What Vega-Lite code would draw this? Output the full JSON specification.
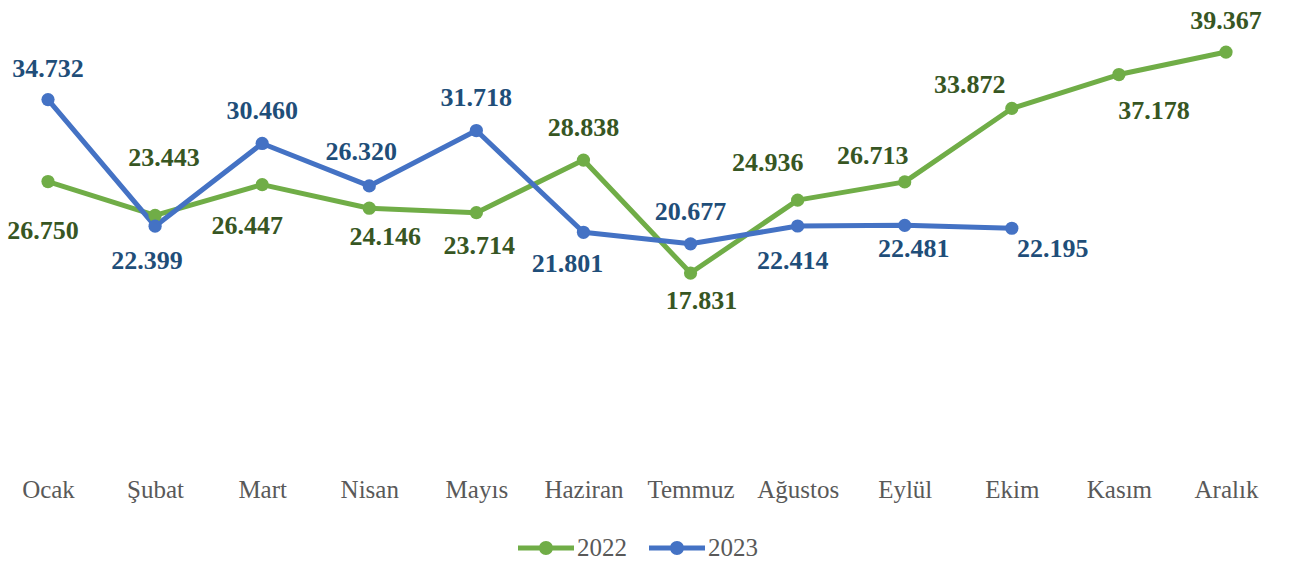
{
  "$schema": "https://vega.github.io/schema/vega-lite/v6.json",
  "width": 1280,
  "height": 456,
  "autosize": {"type": "none"},
  "padding": {"left": 0, "top": 0, "right": 9, "bottom": 105},
  "background": "white",
  "config": {
    "font": "Times New Roman, Liberation Serif, serif",
    "view": {"stroke": null},
    "locale": {"number": {"decimal": ",", "thousands": ".", "grouping": [3], "currency": ["₺", ""]}},
    "axis": {"labelFont": "Times New Roman, Liberation Serif, serif"},
    "legend": {"labelFont": "Times New Roman, Liberation Serif, serif"},
    "text": {"font": "Liberation Serif", "fontSize": 26, "fontWeight": "bold", "baseline": "middle", "align": "center"}
  },
  "data": {
    "values": [
      {"month": "Ocak", "year": "2022", "value": 26750},
      {"month": "Şubat", "year": "2022", "value": 23443},
      {"month": "Mart", "year": "2022", "value": 26447},
      {"month": "Nisan", "year": "2022", "value": 24146},
      {"month": "Mayıs", "year": "2022", "value": 23714},
      {"month": "Haziran", "year": "2022", "value": 28838},
      {"month": "Temmuz", "year": "2022", "value": 17831},
      {"month": "Ağustos", "year": "2022", "value": 24936},
      {"month": "Eylül", "year": "2022", "value": 26713},
      {"month": "Ekim", "year": "2022", "value": 33872},
      {"month": "Kasım", "year": "2022", "value": 37178},
      {"month": "Aralık", "year": "2022", "value": 39367},
      {"month": "Ocak", "year": "2023", "value": 34732},
      {"month": "Şubat", "year": "2023", "value": 22399},
      {"month": "Mart", "year": "2023", "value": 30460},
      {"month": "Nisan", "year": "2023", "value": 26320},
      {"month": "Mayıs", "year": "2023", "value": 31718},
      {"month": "Haziran", "year": "2023", "value": 21801},
      {"month": "Temmuz", "year": "2023", "value": 20677},
      {"month": "Ağustos", "year": "2023", "value": 22414},
      {"month": "Eylül", "year": "2023", "value": 22481},
      {"month": "Ekim", "year": "2023", "value": 22195}
    ]
  },
  "encoding": {
    "x": {
      "field": "month", "type": "ordinal",
      "sort": ["Ocak", "Şubat", "Mart", "Nisan", "Mayıs", "Haziran", "Temmuz", "Ağustos", "Eylül", "Ekim", "Kasım", "Aralık"],
      "scale": {"type": "point", "range": [48, 1226], "padding": 0},
      "axis": {"title": null, "domain": false, "ticks": false, "labelAngle": 0, "labelFont": "Times New Roman, Liberation Serif, serif", "labelFontSize": 25, "labelFontWeight": "normal", "labelColor": "#595959", "labelPadding": 21, "labelOverlap": false, "labelBound": false}
    },
    "y": {"field": "value", "type": "quantitative", "scale": {"domain": [0, 44440], "nice": false, "zero": true}, "axis": null},
    "text": {"field": "value", "type": "quantitative", "format": ",.0f"}
  },
  "layer": [
    {
      "data": {"values": [{}]},
      "mark": {"type": "rule", "color": "#D9D9D9", "strokeWidth": 1.5},
      "encoding": {"x": {"value": 0}, "x2": {"value": 1280}, "y": {"datum": 0}, "text": null}
    },
    {
      "mark": {"type": "line", "strokeWidth": 5, "strokeCap": "round", "strokeJoin": "round"},
      "encoding": {
        "color": {"field": "year", "type": "nominal", "scale": {"domain": ["2022", "2023"], "range": ["#70AD47", "#4472C4"]},
          "legend": {"title": null, "orient": "none", "legendX": 518, "legendY": 520, "direction": "horizontal", "padding": 0,
            "labelFont": "Times New Roman, Liberation Serif, serif", "labelFontSize": 25, "labelColor": "#595959", "labelOffset": 3, "columnPadding": 22,
            "symbolType": "M-1,-0.09H1V0.09H-1Z M-0.25,0A0.25,0.25 0 1,1 0.25,0A0.25,0.25 0 1,1 -0.25,0Z",
            "symbolSize": 3136, "symbolStrokeWidth": 0,
            "encode": {"symbols": {"update": {"fill": {"scale": "color", "field": "value"}, "stroke": {"value": "transparent"}, "opacity": {"value": 1}, "fillOpacity": {"value": 1}}}}}
        },
        "text": null
      }
    },
    {
      "mark": {"type": "point", "filled": true, "size": 175, "opacity": 1},
      "encoding": {"color": {"field": "year", "type": "nominal"}, "text": null}
    },
    {"transform": [{"filter": "datum.year == '2023' && datum.month == 'Ocak'"}], "mark": {"type": "text", "fill": "#1F4E79", "dx": 0, "dy": -31}},
    {"transform": [{"filter": "datum.year == '2022' && datum.month == 'Ocak'"}], "mark": {"type": "text", "fill": "#375623", "dx": -5, "dy": 49}},
    {"transform": [{"filter": "datum.year == '2022' && datum.month == 'Şubat'"}], "mark": {"type": "text", "fill": "#375623", "dx": 9, "dy": -57}},
    {"transform": [{"filter": "datum.year == '2023' && datum.month == 'Şubat'"}], "mark": {"type": "text", "fill": "#1F4E79", "dx": -8, "dy": 35}},
    {"transform": [{"filter": "datum.year == '2023' && datum.month == 'Mart'"}], "mark": {"type": "text", "fill": "#1F4E79", "dx": 0, "dy": -32}},
    {"transform": [{"filter": "datum.year == '2022' && datum.month == 'Mart'"}], "mark": {"type": "text", "fill": "#375623", "dx": -15, "dy": 41}},
    {"transform": [{"filter": "datum.year == '2023' && datum.month == 'Nisan'"}], "mark": {"type": "text", "fill": "#1F4E79", "dx": -8, "dy": -34}},
    {"transform": [{"filter": "datum.year == '2022' && datum.month == 'Nisan'"}], "mark": {"type": "text", "fill": "#375623", "dx": 16, "dy": 29}},
    {"transform": [{"filter": "datum.year == '2023' && datum.month == 'Mayıs'"}], "mark": {"type": "text", "fill": "#1F4E79", "dx": 0, "dy": -33}},
    {"transform": [{"filter": "datum.year == '2022' && datum.month == 'Mayıs'"}], "mark": {"type": "text", "fill": "#375623", "dx": 3, "dy": 33}},
    {"transform": [{"filter": "datum.year == '2022' && datum.month == 'Haziran'"}], "mark": {"type": "text", "fill": "#375623", "dx": 0, "dy": -32}},
    {"transform": [{"filter": "datum.year == '2023' && datum.month == 'Haziran'"}], "mark": {"type": "text", "fill": "#1F4E79", "dx": -16, "dy": 32}},
    {"transform": [{"filter": "datum.year == '2023' && datum.month == 'Temmuz'"}], "mark": {"type": "text", "fill": "#1F4E79", "dx": 0, "dy": -32}},
    {"transform": [{"filter": "datum.year == '2022' && datum.month == 'Temmuz'"}], "mark": {"type": "text", "fill": "#375623", "dx": 11, "dy": 28}},
    {"transform": [{"filter": "datum.year == '2022' && datum.month == 'Ağustos'"}], "mark": {"type": "text", "fill": "#375623", "dx": -30, "dy": -37}},
    {"transform": [{"filter": "datum.year == '2023' && datum.month == 'Ağustos'"}], "mark": {"type": "text", "fill": "#1F4E79", "dx": -5, "dy": 35}},
    {"transform": [{"filter": "datum.year == '2022' && datum.month == 'Eylül'"}], "mark": {"type": "text", "fill": "#375623", "dx": -32, "dy": -26}},
    {"transform": [{"filter": "datum.year == '2023' && datum.month == 'Eylül'"}], "mark": {"type": "text", "fill": "#1F4E79", "dx": 9, "dy": 24}},
    {"transform": [{"filter": "datum.year == '2022' && datum.month == 'Ekim'"}], "mark": {"type": "text", "fill": "#375623", "dx": -42, "dy": -23}},
    {"transform": [{"filter": "datum.year == '2023' && datum.month == 'Ekim'"}], "mark": {"type": "text", "fill": "#1F4E79", "dx": 41, "dy": 21}},
    {"transform": [{"filter": "datum.year == '2022' && datum.month == 'Kasım'"}], "mark": {"type": "text", "fill": "#375623", "dx": 35, "dy": 36}},
    {"transform": [{"filter": "datum.year == '2022' && datum.month == 'Aralık'"}], "mark": {"type": "text", "fill": "#375623", "dx": 0, "dy": -31}}
  ]
}
